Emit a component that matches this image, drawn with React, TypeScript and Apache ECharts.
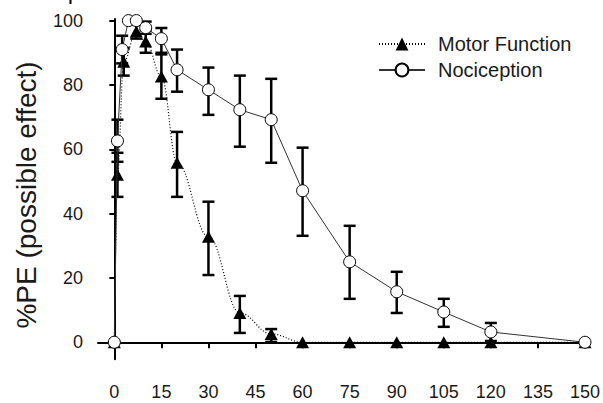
import React, { useEffect, useRef } from "react";
import * as echarts from "echarts";

// Time points (min) and %PE values
const motorTime = [0, 1, 3, 7, 10, 15, 20, 30, 40, 50, 60, 75, 90, 105, 120, 150];
const motorMean = [0, 52.1, 87.2, 96.6, 93.5, 82.6, 55.8, 32.8, 9.1, 2.6, 0, 0, 0, 0, 0, 0];
const motorLow = [0, 45.2, 82.9, 94.4, 90, 75.7, 45.2, 20.9, 2.9, 0.1, 0, 0, 0, 0, 0, 0];
const motorHigh = [0, 58.9, 91.5, 98.8, 97, 89.5, 65.4, 43.7, 14.4, 4.1, 0, 0, 0, 0, 0, 0];

const nocTime = [0, 1, 2.5, 4.5, 7, 10, 15, 20, 30, 40, 50, 60, 75, 90, 105, 120, 150];
const nocMean = [0, 62.6, 91, 100, 100, 97.8, 94.4, 84.7, 78.5, 72.3, 69.2, 47.1, 25, 15.7, 9.4, 3.2, 0];
const nocLow = [0, 56.1, 86.7, 100, 100, 95.9, 90, 77.9, 70.7, 60.8, 55.8, 33.1, 13.5, 9.1, 4.8, 0.4, 0];
const nocHigh = [0, 69.2, 95.3, 100, 100, 99.7, 97.7, 91, 85.4, 82.9, 81.9, 60.5, 36.2, 21.9, 13.5, 6.0, 0];

const xTicks = [0, 15, 30, 45, 60, 75, 90, 105, 120, 135, 150];
const yTicks = [0, 20, 40, 60, 80, 100];

const FONT = "'Liberation Sans', Arial, sans-serif";
const INK = "#1a1a1a";

function errorSeries(time: number[], low: number[], high: number[]) {
  const data = time
    .map((t, i) => [t, low[i], high[i]])
    .filter((d) => d[2] - d[1] > 0.01);
  return {
    type: "custom",
    z: 1,
    silent: true,
    data,
    renderItem: (params: any, api: any) => {
      const x = api.value(0);
      const lo = api.coord([x, api.value(1)]);
      const hi = api.coord([x, api.value(2)]);
      const half = 6;
      const style = { stroke: "#000", lineWidth: 2.5 };
      return {
        type: "group",
        children: [
          { type: "line", shape: { x1: lo[0], y1: lo[1], x2: hi[0], y2: hi[1] }, style },
          { type: "line", shape: { x1: lo[0] - half, y1: lo[1], x2: lo[0] + half, y2: lo[1] }, style },
          { type: "line", shape: { x1: hi[0] - half, y1: hi[1], x2: hi[0] + half, y2: hi[1] }, style },
        ],
      };
    },
  };
}

export default function App() {
  const ref = useRef<HTMLDivElement>(null);

  useEffect(() => {
    if (!ref.current) return;
    const chart = echarts.init(ref.current, null, { renderer: "svg" });
    chart.setOption({
      animation: false,
      backgroundColor: "#fff",
      textStyle: { fontFamily: FONT },
      grid: { left: 98, right: 14, top: 19, bottom: 43.7 },
      legend: {
        orient: "vertical",
        left: 373,
        top: 29,
        itemWidth: 46,
        itemHeight: 16,
        itemGap: 6,
        textStyle: { fontSize: 20, color: INK, fontFamily: FONT, padding: [0, 0, 0, 8], lineHeight: 20 },
        data: ["Motor Function", "Nociception"],
      },
      xAxis: {
        type: "value",
        min: -5.2,
        max: 151,
        offset: 9,
        splitLine: { show: false },
        axisLine: { show: true, lineStyle: { color: "#000", width: 2 } },
        axisTick: { show: true, length: 6, customValues: xTicks, lineStyle: { color: "#000", width: 2 } },
        axisLabel: { customValues: xTicks, fontSize: 18, color: INK, margin: 15, fontFamily: FONT },
      },
      yAxis: {
        type: "value",
        min: -5.3,
        max: 100.5,
        splitLine: { show: false },
        axisLine: { show: true, lineStyle: { color: "#000", width: 2 } },
        axisTick: { show: true, length: 5, customValues: yTicks, lineStyle: { color: "#000", width: 2 } },
        axisLabel: { customValues: yTicks, fontSize: 18, color: INK, margin: 15, fontFamily: FONT },
      },
      graphic: [
        {
          type: "text",
          x: 26,
          y: 195,
          rotation: Math.PI / 2,
          style: {
            text: "%PE (possible effect)",
            fontSize: 28,
            fontFamily: FONT,
            fill: INK,
            textAlign: "center",
            textVerticalAlign: "middle",
          },
        },
        { type: "rect", shape: { x: 69.5, y: 0, width: 2, height: 4 }, style: { fill: "#000" } },
      ],
      series: [
        errorSeries(motorTime, motorLow, motorHigh),
        errorSeries(nocTime, nocLow, nocHigh),
        {
          name: "Motor Function",
          type: "line",
          z: 3,
          data: motorTime.map((t, i) => [t, motorMean[i]]),
          smooth: 0.4,
          smoothMonotone: "x",
          symbol: "triangle",
          symbolSize: [13, 12],
          itemStyle: { color: "#000", borderColor: "#000", borderWidth: 0 },
          lineStyle: { color: "#000", width: 1.2, type: [1, 2] },
        },
        {
          name: "Nociception",
          type: "line",
          z: 4,
          data: nocTime.map((t, i) => [t, nocMean[i]]),
          symbol: "circle",
          symbolSize: 12,
          itemStyle: { color: "#fff", borderColor: "#000", borderWidth: 1 },
          lineStyle: { color: "#333", width: 1 },
        },
      ],
    });
    return () => chart.dispose();
  }, []);

  return <div ref={ref} style={{ width: 603, height: 403, position: "absolute", left: 0, top: 0 }} />;
}
